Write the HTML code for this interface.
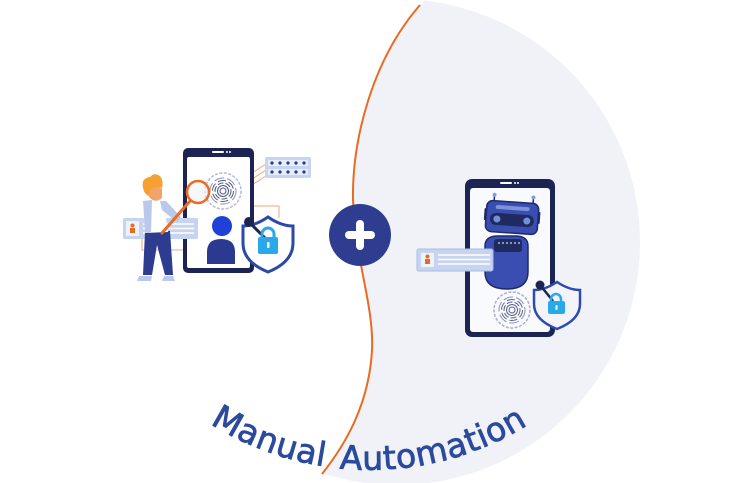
<!DOCTYPE html>
<html><head><meta charset="utf-8"><style>
html,body{margin:0;padding:0;background:#fff;}
svg{display:block;}
</style></head><body>
<svg width="743" height="483" viewBox="0 0 743 483" xmlns="http://www.w3.org/2000/svg">
<defs>
<clipPath id="cc"><circle cx="397" cy="242" r="243"/></clipPath>
<path id="tp" d="M200,417 A300,300 0 0 0 540,417"/>
</defs>
<!-- gray region -->
<path clip-path="url(#cc)" d="M420,5 C372,60 352,140 353,200 C355,260 374,305 372,350 C369,405 345,445 322,474 L320,483 L743,483 L743,0 L425,0 Z" fill="#f1f2f8"/>
<!-- orange curve -->
<path d="M420,5 C372,60 352,140 353,200 C355,260 374,305 372,350 C369,405 345,445 322,474" fill="none" stroke="#ea6a22" stroke-width="2"/>

<!-- ===== LEFT ILLUSTRATION ===== -->
<g stroke="#f2a77a" stroke-width="1" fill="none">
<line x1="230" y1="187" x2="266" y2="164"/>
<line x1="232" y1="192" x2="266" y2="170"/>
<line x1="233" y1="197" x2="266" y2="176"/>
<polyline points="228,206 279,206 279,218"/>
<polyline points="142,238 142,250 200,250"/>
</g>
<!-- phone -->
<rect x="183" y="148" width="71" height="125" rx="5" fill="#1b2452"/>
<rect x="187" y="157" width="63" height="111" rx="2" fill="#ffffff"/>
<rect x="212" y="151" width="12" height="2" rx="1" fill="#fff"/>
<circle cx="227" cy="152" r="1" fill="#fff"/><circle cx="230" cy="152" r="1" fill="#fff"/>
<!-- fingerprint -->
<circle cx="223" cy="191" r="18" fill="none" stroke="#b4bcd6" stroke-width="1.5" stroke-dasharray="3 1.5"/>
<g fill="none" stroke="#4d5680" stroke-width="1">
<circle cx="223" cy="191" r="3"/><circle cx="223" cy="191" r="5.5"/>
<circle cx="223" cy="191" r="8" stroke-dasharray="6 2"/><circle cx="223" cy="191" r="10.5" stroke-dasharray="8 3"/>
<circle cx="223" cy="191" r="13" stroke-dasharray="10 3" stroke="#8a92b4"/>
</g>
<!-- password box -->
<rect x="265" y="157" width="46" height="21" rx="2" fill="#c8d5f0"/>
<rect x="268" y="160" width="40" height="6" rx="1" fill="#e6ecf9"/>
<rect x="268" y="169" width="40" height="6" rx="1" fill="#e6ecf9"/>
<g fill="#2b3a80">
<circle cx="272" cy="163" r="1.6"/><circle cx="280" cy="163" r="1.6"/><circle cx="288" cy="163" r="1.6"/><circle cx="296" cy="163" r="1.6"/><circle cx="304" cy="163" r="1.6"/>
<circle cx="272" cy="172" r="1.6"/><circle cx="280" cy="172" r="1.6"/><circle cx="288" cy="172" r="1.6"/><circle cx="296" cy="172" r="1.6"/><circle cx="304" cy="172" r="1.6"/>
</g>
<!-- user icon -->
<circle cx="222" cy="226" r="10" fill="#2041d8"/>
<path d="M207,264 L207,252 Q207,239 221,239 Q235,239 235,252 L235,264 Z" fill="#2b3a90"/>
<!-- shield -->
<path d="M268,217 Q255,226 243,226 L243,243 Q243,262 268,272 Q293,262 293,243 L293,226 Q281,226 268,217 Z" fill="#fff" stroke="#2b4aa8" stroke-width="3"/>
<line x1="249" y1="222" x2="265" y2="238" stroke="#1b2452" stroke-width="3"/>
<circle cx="249" cy="222" r="5" fill="#1b2452"/>
<path d="M262,238 v-4 a6,6 0 0 1 12,0 v4" fill="none" stroke="#2aa9ea" stroke-width="3"/>
<rect x="258" y="237" width="20" height="17" rx="2" fill="#2aa9ea"/>
<rect x="267" y="242" width="2.5" height="6" rx="1" fill="#fff"/>
<!-- ID card left -->
<rect x="123" y="218" width="75" height="21" rx="1.5" fill="#c6d4f0"/>
<rect x="126" y="221" width="13" height="15" fill="#eef2fb"/>
<circle cx="132.5" cy="225.5" r="2" fill="#ea6a22"/>
<rect x="130" y="228" width="5" height="5" fill="#ea6a22"/>
<g stroke="#fff" stroke-width="1.5"><line x1="143" y1="224" x2="194" y2="224"/><line x1="143" y1="228.5" x2="194" y2="228.5"/><line x1="143" y1="233" x2="194" y2="233"/></g>
<!-- person -->
<path d="M145,232 L170,231 L173,275 L165,275 L157,245 L152,275 L143,275 Z" fill="#2d3c8e"/>
<path d="M139,276 L152,276 L151,281 L137,281 Z" fill="#b9c9ec"/>
<path d="M164,276 L173,276 L175,281 L162,281 Z" fill="#b9c9ec"/>
<path d="M143,201 L163,199 L168,232 L145,233 Z" fill="#ffffff"/>
<path d="M143,201 L152,200 L151,232 L145,233 Z" fill="#b9c9ec"/>
<path d="M160,201 L166,201 L181,217 L177,222 L162,210 Z" fill="#b9c9ec"/>
<path d="M149,186 Q156,183 162,189 L162,198 Q155,204 149,197 Z" fill="#f1a46a"/>
<path d="M143,188 Q141,178 150,177 Q154,172 160,176 Q164,181 162,188 Q156,185 151,189 L149,196 Q144,194 143,188 Z" fill="#f5a030"/>
<!-- magnifier -->
<line x1="190" y1="201" x2="162" y2="233" stroke="#ef6a1f" stroke-width="3" stroke-linecap="round"/>
<circle cx="198" cy="192" r="11" fill="rgba(240,243,250,0.6)" stroke="#ef6a1f" stroke-width="2.5"/>

<!-- ===== PLUS ===== -->
<circle cx="360" cy="235" r="31" fill="#2e3d8f"/>
<rect x="345" y="231" width="30" height="8" rx="4" fill="#fff"/>
<rect x="356" y="220" width="8" height="30" rx="4" fill="#fff"/>

<!-- ===== RIGHT ILLUSTRATION ===== -->
<rect x="465" y="179" width="90" height="158" rx="7" fill="#1b2452"/>
<rect x="470" y="188" width="80" height="144" rx="3" fill="#f9fafd"/>
<rect x="500" y="182" width="12" height="2" rx="1" fill="#fff"/>
<circle cx="515" cy="183" r="1" fill="#fff"/><circle cx="518" cy="183" r="1" fill="#fff"/>
<g transform="rotate(4 512 218)">
<line x1="493" y1="203" x2="493" y2="197" stroke="#1f2a6a" stroke-width="1.5"/>
<circle cx="493" cy="196" r="2" fill="#7fa0e0"/>
<line x1="532" y1="203" x2="532" y2="197" stroke="#1f2a6a" stroke-width="1.5"/>
<circle cx="532" cy="196" r="2" fill="#7fa0e0"/>
<rect x="484" y="210" width="4" height="12" rx="1" fill="#1f2a6a"/>
<rect x="536" y="210" width="4" height="12" rx="1" fill="#1f2a6a"/>
<rect x="486" y="202" width="52" height="31" rx="6" fill="#3a4db0" stroke="#1f2a6a" stroke-width="1.5"/>
<rect x="495" y="206" width="34" height="4" rx="2" fill="#7d92d8"/>
<rect x="490" y="214" width="44" height="12" rx="6" fill="#1f2a5e"/>
<circle cx="497" cy="220" r="3.5" fill="#7090d8"/>
<circle cx="527" cy="220" r="3.5" fill="#7090d8"/>
</g>
<path d="M485,246 Q485,236 498,236 L515,236 Q528,236 528,246 L528,272 Q528,289 507,289 Q485,289 485,272 Z" fill="#3a4db0" stroke="#1f2a6a" stroke-width="1.5"/>
<rect x="494" y="239" width="28" height="13" rx="3" fill="#1f2a5e"/>
<g fill="#a8b8e8"><circle cx="499" cy="243" r="1"/><circle cx="503" cy="243" r="1"/><circle cx="507" cy="243" r="1"/><circle cx="511" cy="243" r="1"/><circle cx="515" cy="243" r="1"/><circle cx="519" cy="243" r="1"/></g>
<rect x="417" y="249" width="76" height="22" rx="2" fill="#c6d4f0" stroke="#a8bce6" stroke-width="1"/>
<rect x="421" y="253" width="13" height="14" fill="#eef2fb"/>
<circle cx="427.5" cy="256.5" r="2" fill="#ea6a22"/>
<rect x="425" y="259" width="5" height="5" fill="#ea6a22"/>
<g stroke="#fff" stroke-width="1.5"><line x1="438" y1="255" x2="490" y2="255"/><line x1="438" y1="259.5" x2="490" y2="259.5"/><line x1="438" y1="264" x2="490" y2="264"/></g>
<circle cx="512" cy="310" r="18" fill="none" stroke="#a8b0cc" stroke-width="1.5" stroke-dasharray="3 1.5"/>
<g fill="none" stroke="#5a6288" stroke-width="1">
<circle cx="512" cy="310" r="3"/><circle cx="512" cy="310" r="5.5"/>
<circle cx="512" cy="310" r="8" stroke-dasharray="6 2"/><circle cx="512" cy="310" r="10.5" stroke-dasharray="8 3"/>
<circle cx="512" cy="310" r="13" stroke-dasharray="10 3" stroke="#8a92b4"/>
</g>
<path d="M557,282 Q545,290 534,290 L534,304 Q534,320 557,329 Q580,320 580,304 L580,290 Q569,290 557,282 Z" fill="#f3f4fa" stroke="#2d4ab0" stroke-width="2.5"/>
<line x1="540" y1="285" x2="553" y2="301" stroke="#1b2452" stroke-width="2.5"/>
<circle cx="540" cy="285" r="4.5" fill="#1b2452"/>
<path d="M551,302 v-3 a5,5 0 0 1 10,0 v3" fill="none" stroke="#2aa9ea" stroke-width="2.5"/>
<rect x="548" y="301" width="17" height="13" rx="2" fill="#2aa9ea"/>
<rect x="555.5" y="305" width="2" height="5" rx="1" fill="#fff"/>

<!-- ===== TEXT ===== -->
<text font-family="'DejaVu Sans', 'Liberation Sans', sans-serif" font-size="33" fill="#2b4a9e" stroke="#2b4a9e" stroke-width="0.8" letter-spacing="0.5">
<textPath href="#tp" startOffset="12">Manual</textPath>
</text>
<text font-family="'DejaVu Sans', 'Liberation Sans', sans-serif" font-size="33" fill="#2b4a9e" stroke="#2b4a9e" stroke-width="0.8" letter-spacing="0.5">
<textPath href="#tp" startOffset="150">Automation</textPath>
</text>
</svg>
</body></html>
